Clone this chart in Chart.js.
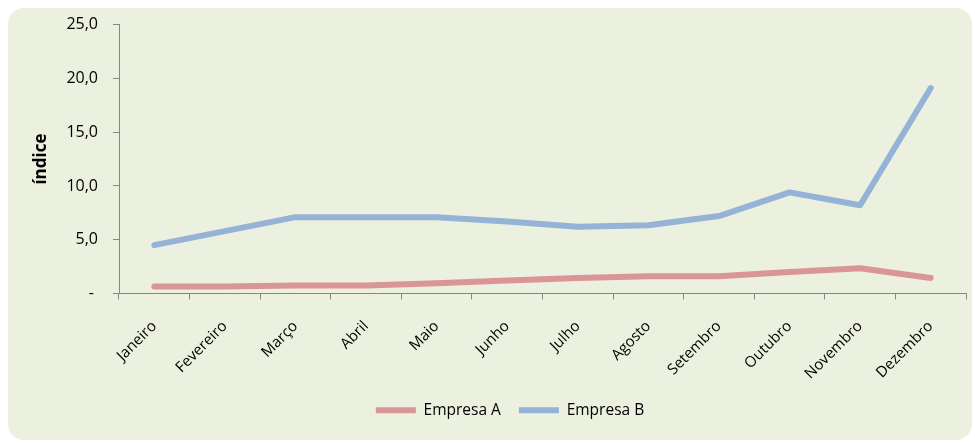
<!DOCTYPE html>
<html>
<head>
<meta charset="utf-8">
<script src="https://cdn.jsdelivr.net/npm/chart.js@4"></script>
<style>
  body { margin: 0; background: #ffffff; }
  #wrap { position: relative; width: 975px; height: 444px; }
  #panel {
    position: absolute; left: 8px; top: 8px; width: 964px; height: 432px;
    background: #EBF1DE; border-radius: 16px;
  }
  #chart { position: absolute; left: 0; top: 0; }
</style>
</head>
<body>
<div id="wrap">
  <div id="panel"></div>
  <canvas id="chart" width="975" height="444"></canvas>
</div>
<script>
// --- DATA ---
const months = ['Janeiro', 'Fevereiro', 'Março', 'Abril', 'Maio', 'Junho',
                'Julho', 'Agosto', 'Setembro', 'Outubro', 'Novembro', 'Dezembro'];
const empresaA = [0.65, 0.65, 0.75, 0.75, 0.95, 1.2, 1.45, 1.6, 1.6, 2.0, 2.35, 1.45];
const empresaB = [4.5, 5.8, 7.1, 7.1, 7.1, 6.7, 6.2, 6.35, 7.2, 9.4, 8.2, 19.1];
const yTicks = [0, 5, 10, 15, 20, 25];

const axisGrey = '#868686';
const fontFamily = "'Open Sans', 'DejaVu Sans', sans-serif";

function fmtTick(v) {
  if (v === 0) return '- ';
  return v.toFixed(1).replace('.', ',');
}

// legend sits a bit right of centre in the original
const legendShift = {
  id: 'legendShift',
  afterLayout(chart) {
    chart.legend.left += 46;
  }
};

const ctx = document.getElementById('chart').getContext('2d');
new Chart(ctx, {
  type: 'line',
  data: {
    labels: months,
    datasets: [
      {
        label: 'Empresa A',
        data: empresaA,
        borderColor: '#D99694',
        backgroundColor: '#D99694',
        borderWidth: 6,
        borderCapStyle: 'round',
        borderJoinStyle: 'round',
        pointRadius: 0,
        pointStyle: 'line',
        tension: 0
      },
      {
        label: 'Empresa B',
        data: empresaB,
        borderColor: '#95B3D7',
        backgroundColor: '#95B3D7',
        borderWidth: 6,
        borderCapStyle: 'round',
        borderJoinStyle: 'round',
        pointRadius: 0,
        pointStyle: 'line',
        tension: 0
      }
    ]
  },
  options: {
    responsive: false,
    animation: false,
    layout: { padding: { left: 8, right: 9, top: 20, bottom: 16 } },
    plugins: {
      tooltip: { enabled: false },
      legend: {
        position: 'bottom',
        labels: {
          usePointStyle: true,
          pointStyleWidth: 40,
          padding: 18,
          color: '#000',
          font: { family: fontFamily, size: 15.5 }
        }
      }
    },
    scales: {
      x: {
        offset: true,
        grid: { offset: true, drawOnChartArea: false, drawTicks: true, tickLength: 6, color: axisGrey },
        border: { color: axisGrey, width: 1 },
        ticks: {
          maxRotation: 45, minRotation: 45, autoSkip: false,
          padding: 18, color: '#000',
          font: { family: fontFamily, size: 15 }
        },
        afterFit: (scale) => { scale.height = 91; }
      },
      y: {
        min: 0, max: 25,
        afterBuildTicks: (scale) => { scale.ticks = yTicks.map(v => ({ value: v })); },
        grid: { drawOnChartArea: false, drawTicks: true, tickLength: 6, color: axisGrey },
        border: { color: axisGrey, width: 1 },
        ticks: {
          padding: 15, color: '#000',
          font: { family: fontFamily, size: 16 },
          callback: (v) => fmtTick(v)
        },
        title: {
          display: true,
          text: 'índice',
          color: '#000',
          padding: { top: 23, bottom: 0 },
          font: { family: fontFamily, size: 17, weight: 'bold' }
        },
        afterFit: (scale) => { scale.width = 111; }
      }
    }
  },
  plugins: [legendShift]
});
</script>
</body>
</html>
